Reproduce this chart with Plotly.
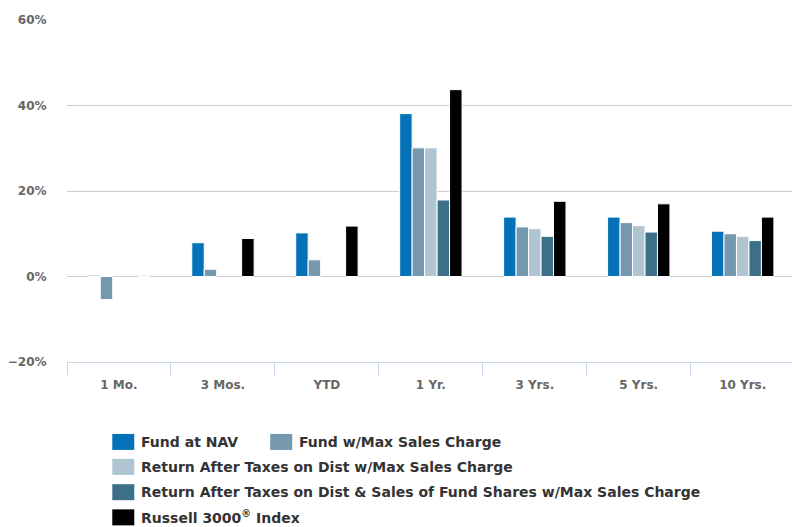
import plotly.graph_objects as go

categories = ["1 Mo.", "3 Mos.", "YTD", "1 Yr.", "3 Yrs.", "5 Yrs.", "10 Yrs."]
series_names = [
    "Fund at NAV",
    "Fund w/Max Sales Charge",
    "Return After Taxes on Dist w/Max Sales Charge",
    "Return After Taxes on Dist & Sales of Fund Shares w/Max Sales Charge",
    "Russell 3000® Index",
]
fund_nav = [0.3, 7.9, 10.2, 38.1, 13.9, 13.9, 10.6]
fund_max = [-5.4, 1.7, 3.9, 30.1, 11.6, 12.6, 10.0]
after_tax_dist = [None, None, None, 30.1, 11.2, 11.9, 9.4]
after_tax_sales = [None, None, None, 17.9, 9.4, 10.4, 8.4]
russell = [0.2, 8.9, 11.8, 43.7, 17.6, 17.0, 13.9]
y_ticks = [-20, 0, 20, 40, 60]

series_values = [fund_nav, fund_max, after_tax_dist, after_tax_sales, russell]
colors = ["#0572b8", "#7598ae", "#afc5d2", "#3c7089", "#000000"]

FONT = "DejaVu Sans"

fig = go.Figure()
for name, vals, col in zip(series_names, series_values, colors):
    fig.add_trace(go.Bar(
        x=categories, y=vals, name=name,
        marker=dict(color=col, line=dict(color="#ffffff", width=1)),
        showlegend=False,
    ))

W, H = 792, 527
ML, MR, MT, MB = 66.7, 0, 19.7, 165
PW, PH = W - ML - MR, H - MT - MB
CAT_W = 104.0  # category slot width in the reference


def px_x(p):
    return (p - ML) / PW


def px_y(p):
    return (H - MB - p) / PH


legend_pos = [
    (112, 442),
    (270, 442),
    (112, 467),
    (112, 492.3),
    (112, 517.5),
]
shapes = []
annotations = []
for (lx, ly), name, col in zip(legend_pos, series_names, colors):
    shapes.append(dict(
        type="rect", xref="paper", yref="paper",
        x0=px_x(lx), x1=px_x(lx + 22), y0=px_y(ly + 8), y1=px_y(ly - 8),
        fillcolor=col, line=dict(width=0),
    ))
    annotations.append(dict(
        xref="paper", yref="paper", x=px_x(lx + 27), y=px_y(ly),
        xanchor="left", yanchor="middle",
        text=name.replace("®", "<sup>®</sup>"), showarrow=False,
        font=dict(family=FONT, size=14, color="#333333", weight="bold"),
    ))

fig.update_layout(
    width=W, height=H,
    margin=dict(l=ML, r=MR, t=MT, b=MB),
    paper_bgcolor="#ffffff", plot_bgcolor="#ffffff",
    barmode="group", bargap=0.4, bargroupgap=0,
    font=dict(family=FONT, size=12, color="#666666", weight="bold"),
    shapes=shapes, annotations=annotations,
    showlegend=False,
    xaxis=dict(
        type="category", range=[-0.5, -0.5 + PW / CAT_W],
        tickson="boundaries", ticks="outside", ticklen=12,
        tickcolor="#ccd6eb", tickwidth=1, showline=True, linecolor="#ccd6eb",
        linewidth=1, showgrid=False, ticklabelstandoff=12,
        tickfont=dict(family=FONT, size=12, color="#666666", weight="bold"),
    ),
    yaxis=dict(
        range=[-20, 60], tickmode="array", tickvals=y_ticks,
        ticktext=[f"{'−' if v < 0 else ''}{abs(v)}%" for v in y_ticks],
        showgrid=True, gridcolor="#cccccc", gridwidth=1,
        zeroline=True, zerolinecolor="#cccccc", zerolinewidth=1,
        ticks="outside", ticklen=17, tickcolor="rgba(0,0,0,0)",
        tickfont=dict(family=FONT, size=12, color="#666666", weight="bold"),
    ),
)

fig.write_html(
    "out.html",
    config={"displayModeBar": False},
    post_script="document.body.style.margin='0';",
)
